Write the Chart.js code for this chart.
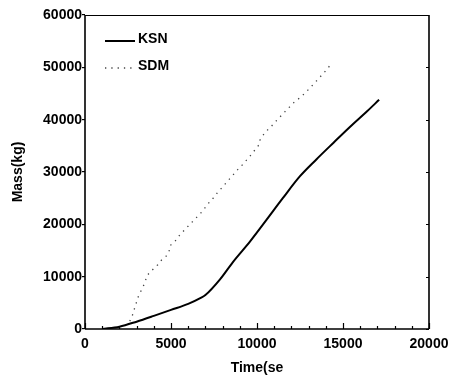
<!DOCTYPE html>
<html>
<head>
<meta charset="utf-8">
<script src="https://cdn.jsdelivr.net/npm/chart.js@4.4.0/dist/chart.umd.min.js"></script>
<style>
  html, body { margin: 0; padding: 0; background: #fff; }
  #wrap { width: 458px; height: 382px; position: relative; }
</style>
</head>
<body>
<div id="wrap"><canvas id="c" width="458" height="382"></canvas></div>
<script>
// ---- data ----
const ksnTime = [1000, 2000, 3000, 4000, 5000, 6000, 6700, 7000, 7850, 8600, 9600, 10550, 11500, 12500, 13450, 14450, 15400, 16400, 17100];
const ksnMass = [0, 440, 1400, 2500, 3650, 4800, 5900, 6500, 9500, 12800, 16750, 20850, 25000, 29200, 32400, 35600, 38600, 41600, 43800];

const sdmTime = [2600, 2715, 2910, 3100, 3200, 3490, 3590, 3820, 4230, 4460, 4750, 4900, 4940, 5230, 5520, 6790, 7270, 7460, 7690, 8880, 9110, 9590, 10130, 10170, 10470, 10760, 11050, 11570, 12170, 12500, 12850, 13370, 14110, 14240];
const sdmMass = [1500, 2170, 4270, 6190, 6900, 8870, 10150, 10980, 12260, 13220, 14000, 15000, 15900, 16730, 18010, 22360, 24390, 25040, 26000, 30460, 31230, 33010, 35260, 36080, 37610, 38450, 39530, 41330, 43360, 44200, 45270, 47080, 49760, 50390];

const seriesNames = ['KSN', 'SDM'];
const xMin = 0, xMax = 20000, xMajor = 5000, xMinor = 1000;
const yMin = 0, yMax = 60000, yMajor = 10000;
const xTitle = 'Time(se';
const yTitle = 'Mass(kg)';

const FONT = "'Liberation Sans', Arial, Helvetica, sans-serif";

const toPts = (xs, ys) => xs.map((x, i) => ({ x: x, y: ys[i] }));

const framePlugin = {
  id: 'frame',
  afterDraw(chart) {
    const ctx = chart.ctx;
    const a = chart.chartArea;
    const xs = chart.scales.x;
    const ys = chart.scales.y;
    ctx.save();
    ctx.strokeStyle = '#000';
    // frame
    ctx.lineWidth = 1;
    ctx.beginPath();
    ctx.moveTo(a.left, a.top + 0.5); ctx.lineTo(a.right, a.top + 0.5);
    ctx.stroke();
    ctx.lineWidth = 1.6;
    ctx.beginPath();
    ctx.moveTo(a.right, a.top); ctx.lineTo(a.right, a.bottom);
    ctx.moveTo(a.left, a.top); ctx.lineTo(a.left, a.bottom);
    ctx.moveTo(a.left, a.bottom); ctx.lineTo(a.right, a.bottom);
    ctx.stroke();
    // inward x ticks
    ctx.lineWidth = 1.2;
    ctx.beginPath();
    for (let v = xMin; v <= xMax; v += xMinor) {
      const px = Math.round(xs.getPixelForValue(v)) + 0.5;
      const len = (v % xMajor === 0) ? 6 : 3;
      ctx.moveTo(px, a.bottom);
      ctx.lineTo(px, a.bottom - len);
    }
    // inward right ticks
    for (let v = yMin; v <= yMax; v += yMajor) {
      const py = Math.round(ys.getPixelForValue(v)) + 0.5;
      ctx.moveTo(a.right, py);
      ctx.lineTo(a.right - 3, py);
    }
    ctx.stroke();
    // legend
    const ds = chart.data.datasets;
    const lx0 = a.left + 20, lx1 = a.left + 50;
    const rows = [a.top + 24, a.top + 51];
    ctx.font = "bold 14px " + FONT;
    ctx.textBaseline = 'middle';
    ctx.textAlign = 'left';
    ds.forEach((d, i) => {
      ctx.save();
      ctx.strokeStyle = d.borderColor;
      ctx.lineWidth = d.borderWidth;
      ctx.setLineDash(d.borderDash || []);
      ctx.beginPath();
      ctx.moveTo(lx0, rows[i] + 2);
      ctx.lineTo(lx1, rows[i] + 2);
      ctx.stroke();
      ctx.restore();
      ctx.fillStyle = '#000';
      ctx.fillText(d.label, lx1 + 3, rows[i]);
    });
    ctx.restore();
  }
};

new Chart(document.getElementById('c'), {
  type: 'scatter',
  data: {
    datasets: [
      {
        label: seriesNames[0],
        data: toPts(ksnTime, ksnMass),
        showLine: true,
        borderColor: '#000',
        borderWidth: 2,
        pointRadius: 0,
        cubicInterpolationMode: 'monotone'
      },
      {
        label: seriesNames[1],
        data: toPts(sdmTime, sdmMass),
        showLine: true,
        borderColor: '#444',
        borderWidth: 1.3,
        borderDash: [1.3, 5],
        pointRadius: 0,
        tension: 0
      }
    ]
  },
  options: {
    responsive: false,
    animation: false,
    devicePixelRatio: 1,
    layout: { padding: { left: 0, top: 15, right: 29, bottom: 0 } },
    plugins: {
      legend: { display: false },
      tooltip: { enabled: false }
    },
    scales: {
      x: {
        type: 'linear',
        min: xMin, max: xMax,
        afterFit: s => { s.height = 53; },
        border: { display: false },
        grid: { display: true, drawOnChartArea: false, drawTicks: false },
        ticks: {
          stepSize: xMinor,
          autoSkip: false,
          maxRotation: 0,
          padding: 7,
          color: '#000',
          font: { family: FONT, size: 14, weight: 'bold' },
          callback: v => (v % xMajor === 0 ? String(v) : '')
        },
        title: {
          display: true, text: xTitle, color: '#000',
          font: { family: FONT, size: 14, weight: 'bold' },
          padding: { top: 0, bottom: 5 }
        }
      },
      y: {
        type: 'linear',
        min: yMin, max: yMax,
        afterFit: s => { s.width = 85; },
        border: { display: false },
        grid: { drawOnChartArea: false, drawTicks: true, tickLength: 3, color: '#000', lineWidth: 1.2 },
        ticks: {
          stepSize: yMajor,
          padding: 0,
          color: '#000',
          font: { family: FONT, size: 14, weight: 'bold' },
          callback: v => String(v)
        },
        title: {
          display: true, text: yTitle, color: '#000',
          font: { family: FONT, size: 14, weight: 'bold' },
          padding: { top: 10, bottom: 0 }
        }
      }
    }
  },
  plugins: [framePlugin]
});
</script>
</body>
</html>
